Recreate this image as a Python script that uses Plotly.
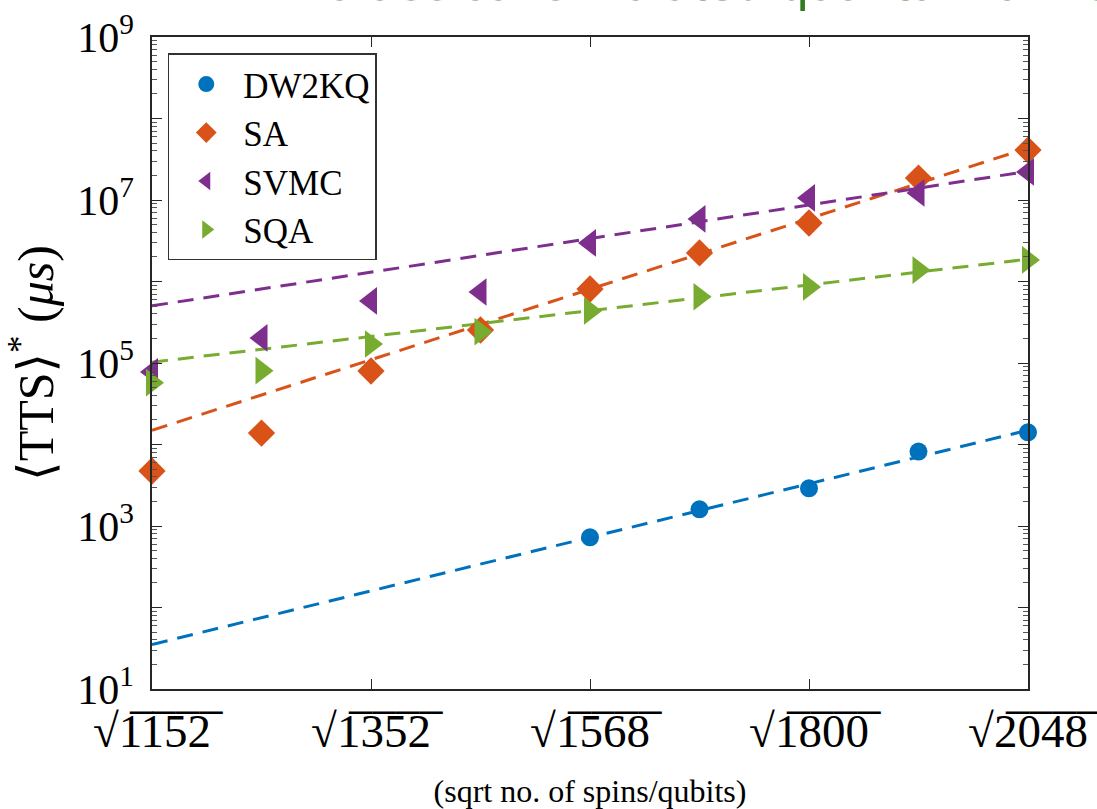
import numpy as np
import plotly.graph_objects as go

# ---- data ----
n_spins = [1152, 1250, 1352, 1458, 1568, 1682, 1800, 1922, 2048]
dw2kq = [None, None, None, None, 726, 1600, 2900, 8200, 14100]
sa = [4730, 13800, 79800, 254000, 809000, 2.24e6, 5.22e6, 1.86e7, 4.10e7]
svmc = [77600, 203000, 577000, 743000, 2.97e6, 5.85e6, 1.06e7, 1.22e7, 2.21e7]
sqa = [57300, 80500, 171000, 242000, 435000, 650000, 857000, 1.38e6, 1.84e6]
tick_spins = [1152, 1352, 1568, 1800, 2048]
fit_from = 4  # fits use the five largest sizes

names = ["DW2KQ", "SA", "SVMC", "SQA"]
series = [dw2kq, sa, svmc, sqa]
colors = ["#0072BD", "#D95319", "#7E2F8E", "#77AC30"]
symbols = ["circle", "diamond", "triangle-left", "triangle-right"]
msizes = [18, 21, 24, 24]

x = np.sqrt(np.array(n_spins, dtype=float))
serif = "'Liberation Serif', 'Times New Roman', 'DejaVu Serif', serif"

fig = go.Figure()
for name, vals, col in zip(names, series, colors):
    xs = x[fit_from:]
    ys = np.log10(np.array(vals[fit_from:], dtype=float))
    p = np.polyfit(xs, ys, 1)
    xl = np.array([x[0], x[-1]])
    fig.add_trace(go.Scatter(
        x=xl, y=10 ** np.polyval(p, xl), mode="lines",
        line=dict(color=col, width=3, dash="16px,10px"),
        showlegend=False, hoverinfo="skip"))

for i, (name, vals, col, sym, ms) in enumerate(zip(names, series, colors, symbols, msizes)):
    fig.add_trace(go.Scatter(
        x=x, y=vals, mode="markers", name=name, legendgroup=name,
        marker=dict(color=col, symbol=sym, size=ms, line=dict(width=0)),
        cliponaxis=False))

def sqrt_label(n):
    return "\u221a" + "".join(c + "\u0305" for c in str(n))

decades = [10 ** k for k in range(1, 10)]
minor_vals = [m * 10 ** k for k in range(1, 9) for m in range(2, 10)]

fig.update_layout(
    width=1097, height=809,
    margin=dict(l=152, r=69, t=37, b=120, autoexpand=False),
    paper_bgcolor="white", plot_bgcolor="white",
    font=dict(family=serif, color="black"),
    showlegend=True,
    legend=dict(x=0.018, y=0.975, xanchor="left", yanchor="top",
                bgcolor="white", bordercolor="#333333", borderwidth=1.5,
                font=dict(family=serif, size=35, color="black"),
                tracegroupgap=0, itemsizing="trace", itemwidth=64),
    xaxis=dict(
        range=[x[0], x[-1]], automargin=False,
        tickmode="array",
        tickvals=np.sqrt(np.array(tick_spins, dtype=float)),
        ticktext=[sqrt_label(n) for n in tick_spins],
        ticks="inside", ticklen=10, tickwidth=1.2, tickcolor="#262626",
        showline=True, linecolor="#262626", linewidth=1.5, mirror="allticks",
        showgrid=False, zeroline=False, ticklabelstandoff=0,
        ticklabeloverflow="allow",
        tickfont=dict(family=serif, size=47, color="black"),
        title=dict(text="(sqrt no. of spins/qubits)",
                   font=dict(family=serif, size=32, color="black"), standoff=24),
    ),
    yaxis=dict(
        type="log", range=[1, 9], automargin=False,
        tickmode="array", tickvals=decades,
        ticktext=["10<sup>%d</sup>" % k if k % 2 == 1 else "" for k in range(1, 10)],
        ticks="inside", ticklen=10, tickwidth=1.2, tickcolor="#262626",
        showline=True, linecolor="#262626", linewidth=1.5, mirror="allticks",
        showgrid=False, zeroline=False, ticklabelstandoff=8,
        ticklabeloverflow="allow",
        tickfont=dict(family=serif, size=42, color="black"),
        minor=dict(tickmode="array", tickvals=minor_vals, ticks="inside",
                   ticklen=5, tickwidth=1, tickcolor="#555555", showgrid=False),
        title=dict(text="\u27e8TTS\u27e9<sup>*</sup> (<i>\u03bcs</i>)",
                   font=dict(family=serif, size=50, color="black"), standoff=8),
    ),
    annotations=[dict(
        text="Classical simulated quantum annealing", xref="paper", yref="paper",
        x=0.19, y=1.0368, xanchor="left", yanchor="bottom", showarrow=False,
        font=dict(family="'Liberation Sans', Arial, sans-serif", size=52,
                  color="#2e7d1f"))],
)

fig.write_html("out.html")
